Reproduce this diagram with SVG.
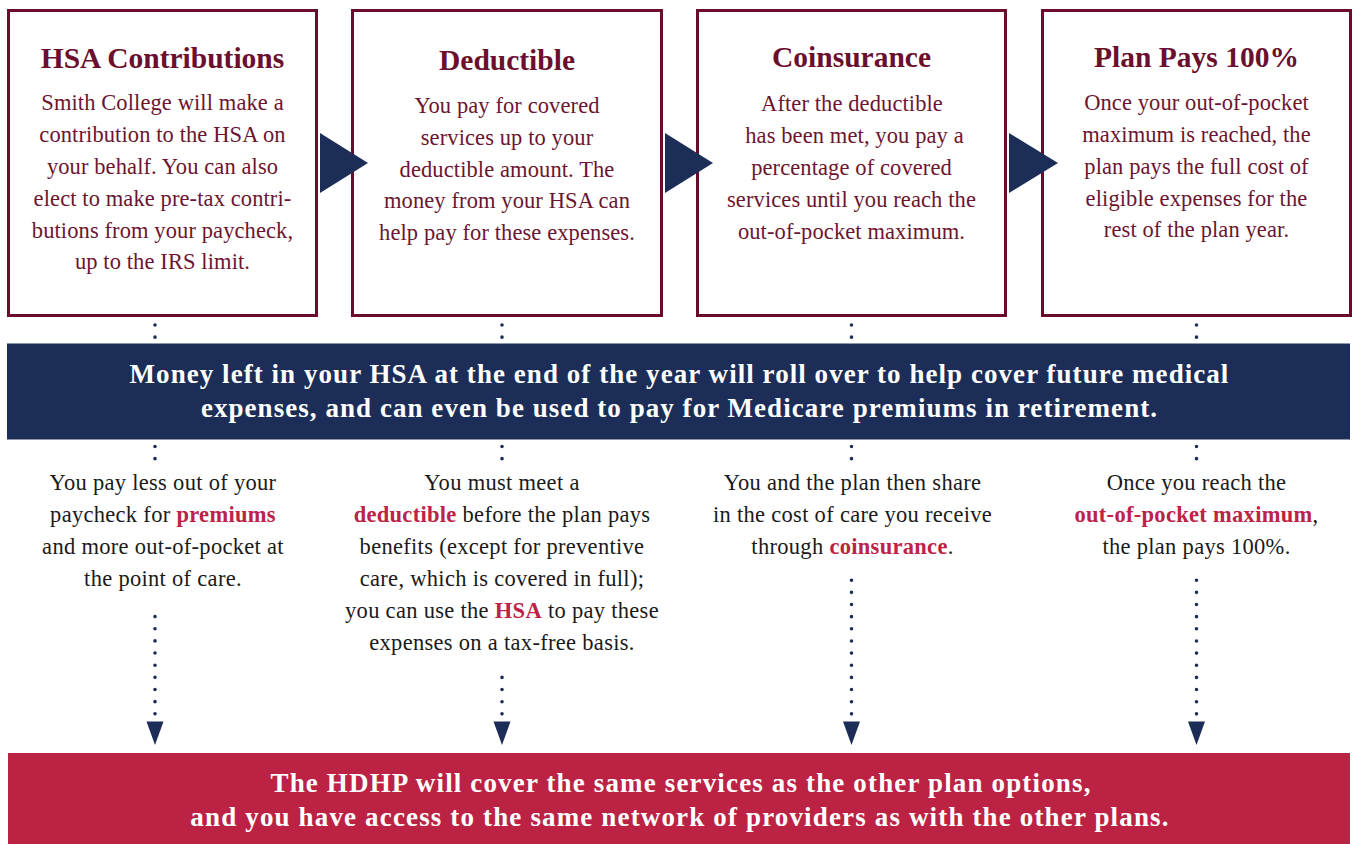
<svg xmlns="http://www.w3.org/2000/svg" width="1353" height="844" viewBox="0 0 1353 844">
<defs>
<style>
.box{fill:#fff;stroke:#6b0c2a;stroke-width:3}
.hd{font-family:"Liberation Serif",serif;font-weight:bold;font-size:29.5px;fill:#6b0f2e;text-anchor:middle}
.bd{font-family:"Liberation Serif",serif;font-size:22.5px;fill:#6b1530;text-anchor:middle;letter-spacing:0.1px}
.nt{font-family:"Liberation Serif",serif;font-size:22.5px;fill:#1a1a1a;text-anchor:middle;letter-spacing:0.3px}
.hl{font-weight:bold;fill:#bc2347}
.bt{font-family:"Liberation Serif",serif;font-weight:bold;font-size:27px;fill:#fff;text-anchor:middle;letter-spacing:1.05px}
.bt2{letter-spacing:1.15px}
.dots{fill:none;stroke:#1c2e57;stroke-width:3.6;stroke-linecap:round;stroke-dasharray:0 12.15}
.tri{fill:#1c2e57}
</style>
<path id="ah" d="M-8.5 721.5 H8.5 L0 745 Z"/>
</defs>

<g id="box1">
<rect class="box" x="8.5" y="10.5" width="308" height="305"/>
<text class="hd" x="162.5" y="68">HSA Contributions</text>
<text class="bd" x="162.5" y="110">Smith College will make a</text>
<text class="bd" x="162.5" y="142">contribution to the HSA on</text>
<text class="bd" x="162.5" y="174">your behalf. You can also</text>
<text class="bd" x="162.5" y="206">elect to make pre-tax contri-</text>
<text class="bd" x="162.5" y="238">butions from your paycheck,</text>
<text class="bd" x="162.5" y="269">up to the IRS limit.</text>
</g>

<g id="box2">
<rect class="box" x="352.5" y="10.5" width="309" height="305"/>
<text class="hd" x="507" y="70">Deductible</text>
<text class="bd" x="507" y="113">You pay for covered</text>
<text class="bd" x="507" y="145">services up to your</text>
<text class="bd" x="507" y="177">deductible amount. The</text>
<text class="bd" x="507" y="208">money from your HSA can</text>
<text class="bd" x="507" y="240">help pay for these expenses.</text>
</g>

<g id="box3">
<rect class="box" x="697.5" y="10.5" width="308" height="305"/>
<text class="hd" x="851.5" y="67">Coinsurance</text>
<text class="bd" x="852" y="111">After the deductible</text>
<text class="bd" x="854.5" y="143">has been met, you pay a</text>
<text class="bd" x="851.5" y="175">percentage of covered</text>
<text class="bd" x="851.5" y="207">services until you reach the</text>
<text class="bd" x="851.5" y="239">out-of-pocket maximum.</text>
</g>

<g id="box4">
<rect class="box" x="1042.5" y="10.5" width="308" height="305"/>
<text class="hd" x="1196.5" y="67">Plan Pays 100%</text>
<text class="bd" x="1196.5" y="110">Once your out-of-pocket</text>
<text class="bd" x="1196.5" y="142">maximum is reached, the</text>
<text class="bd" x="1196.5" y="174">plan pays the full cost of</text>
<text class="bd" x="1196.5" y="206">eligible expenses for the</text>
<text class="bd" x="1196.5" y="237">rest of the plan year.</text>
</g>

<g id="band-hsa">
<rect x="7" y="343.5" width="1343" height="96" fill="#1c2e57"/>
<text class="bt" x="679.5" y="383">Money left in your HSA at the end of the year will roll over to help cover future medical</text>
<text class="bt" x="679.5" y="417">expenses, and can even be used to pay for Medicare premiums in retirement.</text>
</g>

<g id="note1">
<text class="nt" x="163" y="490">You pay less out of your</text>
<text class="nt" x="163" y="522">paycheck for <tspan class="hl">premiums</tspan></text>
<text class="nt" x="163" y="554">and more out-of-pocket at</text>
<text class="nt" x="163" y="586">the point of care.</text>
</g>

<g id="note2">
<text class="nt" x="502" y="490">You must meet a</text>
<text class="nt" x="502" y="522"><tspan class="hl">deductible</tspan> before the plan pays</text>
<text class="nt" x="502" y="554">benefits (except for preventive</text>
<text class="nt" x="502" y="586">care, which is covered in full);</text>
<text class="nt" x="502" y="618">you can use the <tspan class="hl">HSA</tspan> to pay these</text>
<text class="nt" x="502" y="650">expenses on a tax-free basis.</text>
</g>

<g id="note3">
<text class="nt" x="852.5" y="490">You and the plan then share</text>
<text class="nt" x="852.5" y="522">in the cost of care you receive</text>
<text class="nt" x="852.5" y="554">through <tspan class="hl">coinsurance</tspan>.</text>
</g>

<g id="note4">
<text class="nt" x="1196.5" y="490">Once you reach the</text>
<text class="nt" x="1196.5" y="522"><tspan class="hl">out-of-pocket maximum</tspan>,</text>
<text class="nt" x="1196.5" y="554">the plan pays 100%.</text>
</g>

<g id="band-hdhp">
<rect x="8" y="753" width="1342" height="91" fill="#bb2244"/>
<text class="bt bt2" x="681" y="792">The HDHP will cover the same services as the other plan options,</text>
<text class="bt bt2" x="680" y="826">and you have access to the same network of providers as with the other plans.</text>
</g>

<g id="connectors">
<polygon class="tri" points="320,133 368,163 320,193"/>
<polygon class="tri" points="665,133 713,163 665,193"/>
<polygon class="tri" points="1009,133 1058,163 1009,193"/>
<path class="dots" d="M155 325 V337.3 M155 446.5 V458.8 M155 616.6 V714"/>
<path class="dots" d="M502 325 V337.3 M502 446.5 V458.8 M502 677.4 V714"/>
<path class="dots" d="M851.5 325 V337.3 M851.5 446.5 V458.8 M851.5 580.2 V714"/>
<path class="dots" d="M1196.5 325 V337.3 M1196.5 446.5 V458.8 M1196.5 580.2 V714"/>
<use href="#ah" x="155" class="tri"/>
<use href="#ah" x="502" class="tri"/>
<use href="#ah" x="851.5" class="tri"/>
<use href="#ah" x="1196.5" class="tri"/>
</g>
</svg>
